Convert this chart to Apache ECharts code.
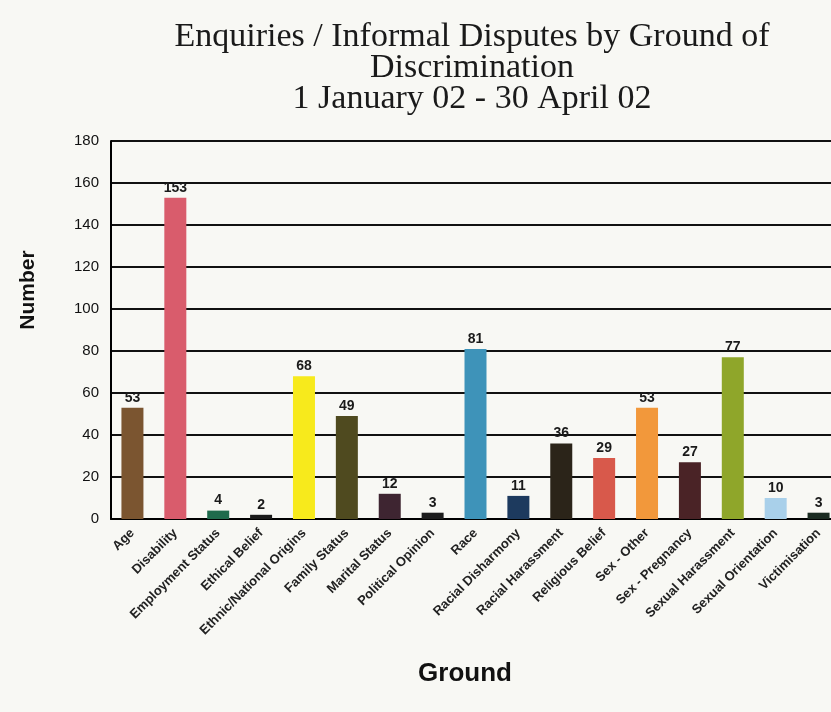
<!DOCTYPE html>
<html>
<head>
<meta charset="utf-8">
<script src="https://cdn.jsdelivr.net/npm/echarts@6/dist/echarts.min.js"></script>
<style>
  html, body { margin: 0; padding: 0; background: #f8f8f4; overflow: hidden; }
  #chart { width: 860px; height: 712px; }
</style>
</head>
<body>
<div id="chart"></div>
<script>
// Grounds of discrimination and number of enquiries / informal disputes
const categories = [
  'Age', 'Disability', 'Employment Status', 'Ethical Belief',
  'Ethnic/National Origins', 'Family Status', 'Marital Status',
  'Political Opinion', 'Race', 'Racial Disharmony', 'Racial Harassment',
  'Religious Belief', 'Sex - Other', 'Sex - Pregnancy', 'Sexual Harassment',
  'Sexual Orientation', 'Victimisation'
];
const counts = [53, 153, 4, 2, 68, 49, 12, 3, 81, 11, 36, 29, 53, 27, 77, 10, 3];
const barColors = [
  '#7b5530', '#d95c6c', '#1f6b4c', '#1a1a1a', '#f7ea1c', '#4f4a1f',
  '#3e2531', '#1c1c1c', '#3e93b9', '#1d3a5e', '#2b2419', '#d8594b',
  '#f2983b', '#4a2326', '#8fa62a', '#a9d0ea', '#1b2b21'
];
const yTicks = { min: 0, max: 180, interval: 20 };

const labelFont = '"Liberation Sans", Arial, sans-serif';

const chart = echarts.init(document.getElementById('chart'), null, { renderer: 'canvas' });
chart.setOption({
  backgroundColor: '#f8f8f4',
  animation: false,
  title: [
    {
      text: 'Enquiries / Informal Disputes by Ground of\nDiscrimination\n1 January 02 - 30 April 02',
      left: 467, top: 17, textAlign: 'center',
      textStyle: {
        fontFamily: '"Liberation Serif", "DejaVu Serif", serif',
        fontWeight: 'normal', fontSize: 34, lineHeight: 31, color: '#1a1a1a'
      }
    },
    {
      text: 'Ground',
      left: 460, top: 656, textAlign: 'center',
      textStyle: {
        fontFamily: labelFont,
        fontWeight: 'bold', fontSize: 26, color: '#111'
      }
    }
  ],
  graphic: [{
    type: 'text',
    x: 18, y: 290, rotation: Math.PI / 2,
    style: {
      text: 'Number', align: 'center', verticalAlign: 'top',
      font: 'bold 21px "Liberation Sans", Arial, sans-serif', fill: '#111'
    }
  }],
  grid: { left: 111, top: 141, width: 729, height: 378, containLabel: false },
  xAxis: {
    type: 'category',
    data: categories,
    axisLine: { lineStyle: { color: '#000', width: 2 } },
    axisTick: { show: false },
    axisLabel: {
      interval: 0, rotate: 45, margin: 12,
      fontFamily: labelFont, fontSize: 13, fontWeight: 'bold', color: '#222'
    }
  },
  yAxis: {
    type: 'value',
    min: yTicks.min, max: yTicks.max, interval: yTicks.interval,
    axisLine: { show: true, lineStyle: { color: '#000', width: 2 } },
    axisTick: { show: false },
    axisLabel: { margin: 12, fontFamily: labelFont, fontSize: 15, color: '#111' },
    splitLine: { lineStyle: { color: '#111', width: 2 } }
  },
  series: [{
    type: 'bar',
    data: counts.map((v, i) => ({ value: v, itemStyle: { color: barColors[i] } })),
    barWidth: 22,
    label: {
      show: true, position: 'top', distance: 3,
      fontFamily: labelFont, fontWeight: 'bold', fontSize: 14, color: '#1a1a1a'
    }
  }]
});
</script>
</body>
</html>
